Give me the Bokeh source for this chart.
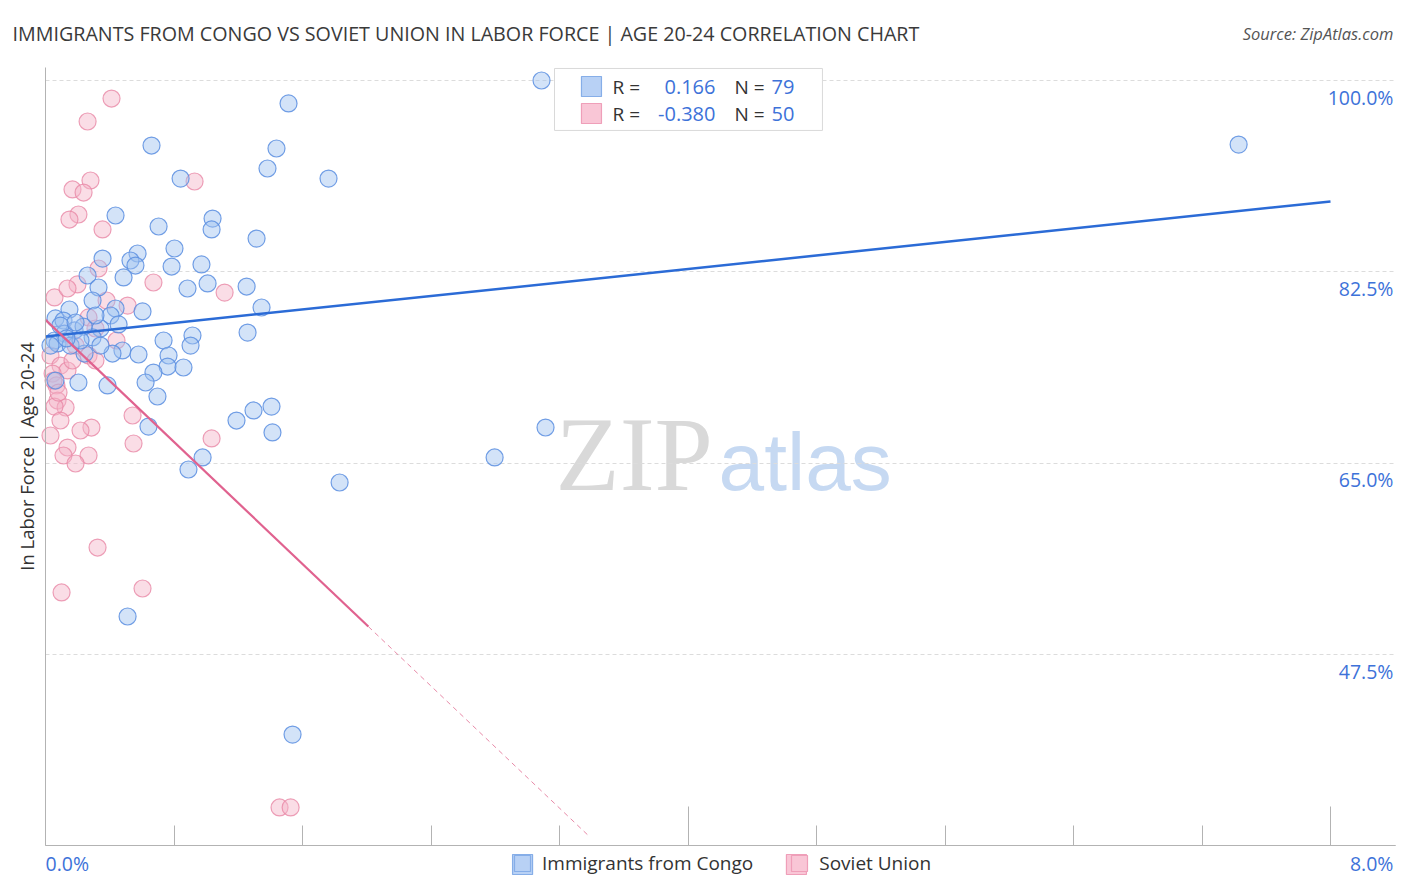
from bokeh.plotting import figure
from bokeh.models import Range1d, FixedTicker, Label, Legend, LegendItem, LinearAxis
from bokeh.core.properties import value
from bokeh.embed import file_html
from bokeh.resources import INLINE

FONT = "Open Sans"

# ---------------- data ----------------
congo_x = [3.088, 1.513, 7.428, 0.660, 1.438, 0.841, 1.382, 1.762,
           0.436, 1.040, 1.034, 0.704, 1.314, 0.803, 0.355, 0.573, 0.529, 0.560, 0.785, 0.971,
           0.262, 0.486, 0.884, 1.009, 1.252, 0.330, 0.293, 0.436, 1.345, 0.149, 0.405, 0.604,
           0.062, 0.112, 0.455, 0.342, 0.181, 0.118, 1.258, 0.915, 0.735, 0.293, 0.056, 0.075, 0.903,
           0.479, 0.417, 0.243, 0.579, 0.766, 0.760, 0.859, 0.672, 0.623, 0.205, 0.386, 0.697,
           1.295, 1.407, 1.189, 0.641, 1.413, 3.113, 0.978, 0.890, 2.796, 1.831, 0.511, 1.538,
           0.062, 0.031, 0.237, 0.342, 0.156, 0.093, 0.218, 0.131, 0.311, 0.187]
congo_y = [100.0, 97.90, 94.14, 94.05, 93.78, 91.03, 91.95, 91.03,
           87.65, 87.37, 86.37, 86.64, 85.54, 84.63, 83.71, 84.17, 83.53, 83.07, 82.98, 83.17,
           82.16, 81.98, 80.97, 81.43, 81.15, 81.06, 79.87, 79.14, 79.23, 79.05, 78.50, 78.87,
           78.23, 78.04, 77.68, 77.31, 77.13, 76.85, 76.94, 76.67, 76.21, 76.49, 76.21, 75.94, 75.75,
           75.30, 75.02, 75.02, 74.93, 74.84, 73.83, 73.74, 73.28, 72.37, 72.37, 72.10, 71.09,
           69.81, 70.17, 68.89, 68.34, 67.80, 68.25, 65.51, 64.41, 65.51, 63.22, 50.96, 40.16,
           72.55, 75.75, 77.49, 75.75, 75.75, 77.58, 76.21, 76.40, 78.50, 77.86]

soviet_x = [0.411, 0.262, 0.280, 0.168, 0.237, 0.928, 0.205, 0.149, 0.355, 0.330,
            0.672, 0.199, 0.056, 0.137, 0.380, 1.115, 0.511, 0.268, 0.311, 0.187,
            0.031, 0.268, 0.311, 0.093, 0.137, 0.044, 0.068, 0.075, 0.125, 0.056,
            0.542, 0.093, 0.286, 0.218, 0.031, 1.034, 0.548, 0.137, 0.112, 0.268,
            0.187, 0.324, 0.100, 0.604, 1.457, 1.526, 0.050, 0.442, 0.168, 0.081]
soviet_y = [98.35, 96.25, 90.85, 90.03, 89.75, 90.76, 87.74, 87.28, 86.37, 82.80,
            81.52, 81.34, 80.15, 80.97, 79.87, 80.60, 79.41, 78.32, 77.31, 75.75,
            74.84, 74.84, 74.38, 73.92, 73.47, 73.19, 72.10, 70.72, 70.08, 70.17,
            69.35, 68.89, 68.25, 67.98, 67.52, 67.25, 66.79, 66.42, 65.69, 65.69,
            64.96, 57.27, 53.16, 53.52, 33.49, 33.49, 72.55, 76.21, 74.38, 71.45]

series_names = ["Immigrants from Congo", "Soviet Union"]
r_values = ["0.166", "-0.380"]
n_values = ["79", "50"]

# trend lines (intercept, slope)
congo_trend = (76.58, 1.544)
congo_trend_x = [0.0, 8.0]
soviet_trend = (78.10, -13.96)
soviet_solid_x = [0.0, 2.01]
soviet_dash_x = [2.01, 3.38]

y_ticks = [47.5, 65.0, 82.5, 100.0]
x_minor = [0.8, 1.6, 2.4, 3.2, 4.8, 5.6, 6.4, 7.2]
x_major = [4.0, 8.0]
x_tick_labels = ["0.0%", "8.0%"]

title_text = "IMMIGRANTS FROM CONGO VS SOVIET UNION IN LABOR FORCE | AGE 20-24 CORRELATION CHART"
source_text = "Source: ZipAtlas.com"
y_label = "In Labor Force | Age 20-24"

BLUE_FILL, BLUE_LINE = "#9dc0ef", "#5a8ee0"
PINK_FILL, PINK_LINE = "#f5b3c7", "#e888a6"
SQ_FILL = ["#b8d1f5", "#f9c6d6"]
SQ_LINE = ["#86aee8", "#ef9fb9"]
TXT_BLUE = "#3d72d9"
TXT_DARK = "#333333"
AXIS_GRAY = "#b3b3b3"

# plot area in data units
PX0, PX1 = 0.0, 8.405
PY0, PY1 = 30.0, 101.19
# full canvas in data units
CX0, CX1 = -0.2802, 8.4731
CY0, CY1 = 25.709, 107.319

p = figure(width=1406, height=892, output_backend="svg", toolbar_location=None, tools="",
           x_range=Range1d(CX0, CX1), y_range=Range1d(CY0, CY1),
           min_border=0, min_border_left=0, min_border_right=0, min_border_top=0, min_border_bottom=0,
           x_axis_location=None, y_axis_location=None)
p.outline_line_color = None
p.background_fill_color = "white"

# x axis: short minor ticks, tall ticks at 4% and 8%
xa1 = LinearAxis(ticker=FixedTicker(ticks=[], minor_ticks=x_minor), fixed_location=PY0,
                 bounds=(PX0, PX1), axis_line_color=AXIS_GRAY, minor_tick_in=20, minor_tick_out=0,
                 minor_tick_line_color=AXIS_GRAY, major_tick_line_color=None)
xa2 = LinearAxis(ticker=FixedTicker(ticks=[], minor_ticks=x_major), fixed_location=PY0,
                 bounds=(PX0, PX1), axis_line_color=AXIS_GRAY, minor_tick_in=39, minor_tick_out=0,
                 minor_tick_line_color=AXIS_GRAY, major_tick_line_color=None)
p.add_layout(xa1, "below")
p.add_layout(xa2, "below")

# y axis: line + title only
ya = LinearAxis(ticker=FixedTicker(ticks=[]), fixed_location=PX0, bounds=(PY0, PY1),
                axis_line_color=AXIS_GRAY, major_tick_line_color=None, minor_tick_line_color=None,
                axis_label=y_label, axis_label_standoff=7, axis_label_text_font=FONT,
                axis_label_text_font_size="18.5px", axis_label_text_font_style="normal",
                axis_label_text_color=TXT_DARK)
p.add_layout(ya, "left")

p.xgrid.visible = False
p.ygrid.ticker = FixedTicker(ticks=y_ticks)
p.ygrid.grid_line_color = "#dcdcdc"
p.ygrid.grid_line_dash = "4 3"
try:
    p.ygrid.cross_bounds = (PX0, 8.392)
except Exception:
    p.quad(left=[CX0], right=[PX0], top=[CY1], bottom=[CY0], fill_color="white", line_color=None)

# watermark
p.text(x=[3.175], y=[65.79], text=["ZIP"], text_font=value("Liberation Serif"),
       text_font_size="105px", text_color="#d9d9d9", text_baseline="alphabetic",
       text_align="left", level="underlay")
p.text(x=[4.19], y=[65.1], text=["atlas"], text_font=value("Liberation Sans"),
       text_font_size="82px", text_color="#c6d9f2", text_baseline="alphabetic",
       text_align="left", level="underlay")

# points
p.scatter(soviet_x, soviet_y, size=17, marker="circle", fill_color=PINK_FILL, fill_alpha=0.45,
          line_color=PINK_LINE, line_alpha=0.8, line_width=1.2)
p.scatter(congo_x, congo_y, size=17, marker="circle", fill_color=BLUE_FILL, fill_alpha=0.45,
          line_color=BLUE_LINE, line_alpha=0.85, line_width=1.2)

# trend lines
p.line(congo_trend_x, [congo_trend[0] + congo_trend[1] * x for x in congo_trend_x],
       line_color="#2b6bd6", line_width=2.5)
p.line(soviet_solid_x, [soviet_trend[0] + soviet_trend[1] * x for x in soviet_solid_x],
       line_color="#e0628f", line_width=2.2)
p.line(soviet_dash_x, [soviet_trend[0] + soviet_trend[1] * x for x in soviet_dash_x],
       line_color="#e88aa8", line_width=1, line_dash="5 4")

# top stats box
p.quad(left=[3.169], right=[4.837], top=[101.10], bottom=[95.43], fill_color="white",
       line_color="#d9d9d9", line_width=1)
row_y = [99.45, 96.98]
p.rect(x=[3.399, 3.399], y=row_y, width=20, height=20, width_units="screen", height_units="screen",
       fill_color=SQ_FILL, line_color=SQ_LINE, line_width=1.2)
for i in range(2):
    p.add_layout(Label(x=3.530, y=row_y[i], text="R =", text_align="left", text_baseline="middle",
                       text_font=FONT, text_font_size="19px", text_color=TXT_DARK))
    p.add_layout(Label(x=4.171, y=row_y[i], text=r_values[i], text_align="right", text_baseline="middle",
                       text_font=FONT, text_font_size="20px", text_color=TXT_BLUE))
    p.add_layout(Label(x=4.290, y=row_y[i], text="N =", text_align="left", text_baseline="middle",
                       text_font=FONT, text_font_size="19px", text_color=TXT_DARK))
    p.add_layout(Label(x=4.52, y=row_y[i], text=n_values[i], text_align="left", text_baseline="middle",
                       text_font=FONT, text_font_size="20px", text_color=TXT_BLUE))

# right-side y tick labels (below each grid line)
for v in y_ticks:
    p.add_layout(Label(x=8.392, y=v - 1.55, text=f"{v:.1f}%", text_align="right", text_baseline="middle",
                       text_font=FONT, text_font_size="19.5px", text_color=TXT_BLUE))

# bottom x labels
p.add_layout(Label(x=PX0, y=28.36, text=x_tick_labels[0], text_align="left", text_baseline="middle",
                   text_font=FONT, text_font_size="19.5px", text_color=TXT_BLUE))
p.add_layout(Label(x=8.392, y=28.36, text=x_tick_labels[1], text_align="right", text_baseline="middle",
                   text_font=FONT, text_font_size="19.5px", text_color=TXT_BLUE))

# title and source
p.add_layout(Label(x=-0.2054, y=104.30, text=title_text, text_align="left", text_baseline="middle",
                   text_font=FONT, text_font_size="19.7px", text_color="#3a3a3a"))
p.add_layout(Label(x=8.392, y=104.30, text=source_text, text_align="right", text_baseline="middle",
                   text_font=FONT, text_font_size="16.5px", text_font_style="italic", text_color="#555555"))

# bottom legend (squares drawn where the legend puts its glyphs)
leg_x = [2.970, 4.675]
leg_y = [28.27, 28.27]
leg_c = p.rect(x=[leg_x[0]], y=[leg_y[0]], width=20, height=20, width_units="screen", height_units="screen",
               fill_color=SQ_FILL[0], line_color=SQ_LINE[0], line_width=1.2)
leg_s = p.rect(x=[leg_x[1]], y=[leg_y[1]], width=20, height=20, width_units="screen", height_units="screen",
               fill_color=SQ_FILL[1], line_color=SQ_LINE[1], line_width=1.2)
legend = Legend(items=[LegendItem(label=series_names[0], renderers=[leg_c]),
                       LegendItem(label=series_names[1], renderers=[leg_s])],
                orientation="horizontal", location=(512, 16), glyph_width=20, glyph_height=20,
                label_standoff=10, spacing=36, padding=0, margin=0, border_line_color=None,
                background_fill_alpha=0, label_text_font=FONT, label_text_font_size="19px",
                label_text_color=TXT_DARK)
p.add_layout(legend)

open("out.html", "w").write(file_html(p, INLINE))
